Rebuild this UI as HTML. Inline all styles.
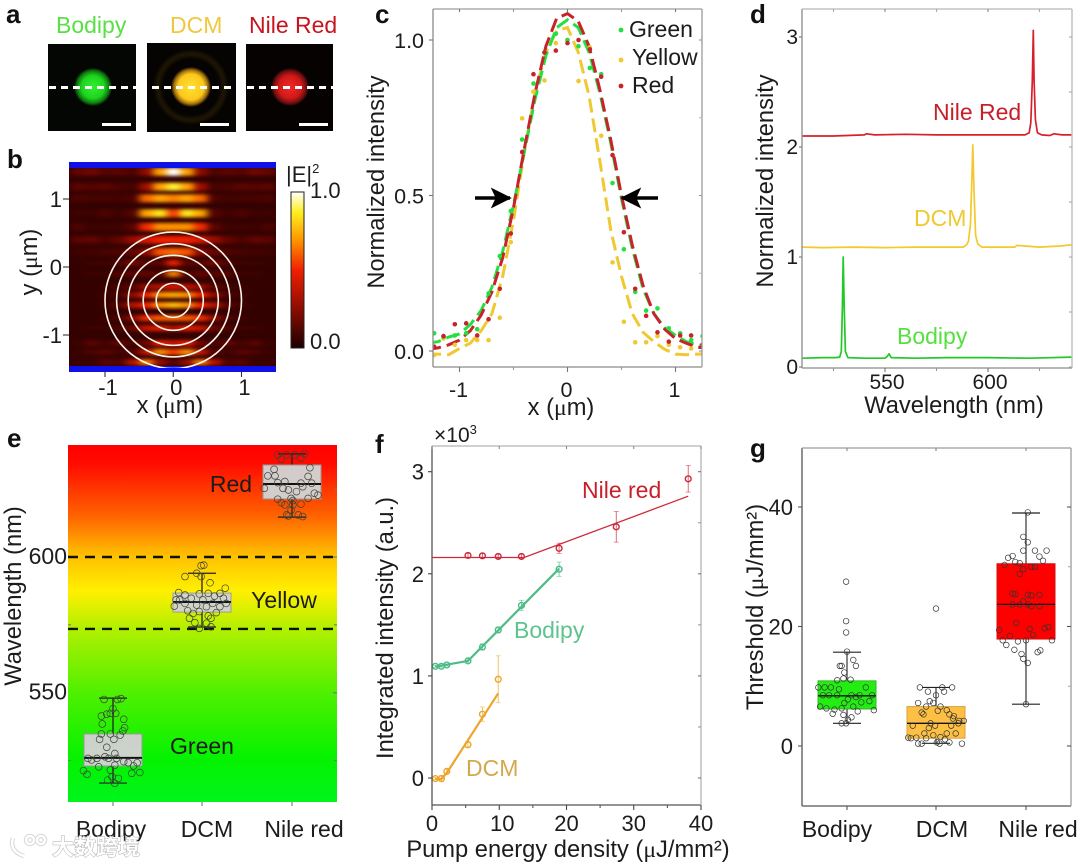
<!DOCTYPE html>
<html lang="en">
<head>
<meta charset="utf-8">
<title>Panels a-g: lasing spectra and thresholds</title>
<style>
html,body{margin:0;padding:0;background:#fff;}
#fig{display:block;width:1080px;height:865px;filter:blur(0.35px);font-family:"Liberation Sans","Noto Sans CJK SC",sans-serif;}
text{fill:#1c1c1c;font-family:"Liberation Sans","Noto Sans CJK SC",sans-serif;}
.letter{font-weight:bold;font-size:26px;fill:#111;}
.title{font-size:23.7px;}
.mu{font-family:"Liberation Serif","DejaVu Serif",serif;}
</style>
</head>
<body>
<svg id="fig" xmlns="http://www.w3.org/2000/svg" width="1080" height="865" viewBox="0 0 1080 865">
<defs>
  <radialGradient id="spot-green"><stop offset="0" stop-color="#30f030"/><stop offset=".6" stop-color="#1ed41e"/><stop offset=".85" stop-color="#0f7a0f"/><stop offset="1" stop-color="#041004"/></radialGradient>
  <radialGradient id="spot-yellow"><stop offset="0" stop-color="#ffe030"/><stop offset=".65" stop-color="#fcc71c"/><stop offset=".85" stop-color="#a0700c"/><stop offset="1" stop-color="#0c0600"/></radialGradient>
  <radialGradient id="spot-red"><stop offset="0" stop-color="#f02a2a"/><stop offset=".6" stop-color="#d01818"/><stop offset=".85" stop-color="#701010"/><stop offset="1" stop-color="#100202"/></radialGradient>
  <linearGradient id="cbar" x1="0" y1="1" x2="0" y2="0">
    <stop offset="0" stop-color="#1c0000"/><stop offset=".25" stop-color="#8c0c00"/><stop offset=".5" stop-color="#f02000"/><stop offset=".7" stop-color="#ff9a00"/><stop offset=".87" stop-color="#ffee20"/><stop offset="1" stop-color="#ffffff"/>
  </linearGradient>
  <linearGradient id="spectrum-bg" x1="0" y1="0" x2="0" y2="1">
    <stop offset="0" stop-color="#ff0000"/><stop offset=".05" stop-color="#ff0a00"/><stop offset=".2" stop-color="#ff6400"/><stop offset=".31" stop-color="#ffc000"/><stop offset=".41" stop-color="#fff000"/><stop offset=".51" stop-color="#b4f000"/><stop offset=".7" stop-color="#4cf000"/><stop offset=".88" stop-color="#04f200"/><stop offset="1" stop-color="#00f51c"/>
  </linearGradient>
  <filter id="heat-blur" x="-5%" y="-5%" width="110%" height="110%" color-interpolation-filters="sRGB"><feGaussianBlur stdDeviation="3.6 1.7"/></filter>
  <filter id="soft" x="-20%" y="-20%" width="140%" height="140%" color-interpolation-filters="sRGB"><feGaussianBlur stdDeviation="1.2"/></filter>
  <clipPath id="heat-clip"><rect x="69" y="166" width="207" height="202"/></clipPath>
  <clipPath id="c-clip"><rect x="433" y="9" width="269" height="358"/></clipPath>
  <marker id="arrow-head" markerWidth="6" markerHeight="6" refX="5.5" refY="3" orient="auto"><path d="M0,0 L6,3 L0,6 L1.4,3 Z" fill="#000"/></marker>
</defs>

<rect x="0" y="0" width="1080" height="865" fill="#fff"/>

<!-- Panel a -->
<g>
  <text class="letter" x="6" y="23">a</text>
  <text x="56" y="33" font-size="23" style="fill:#58e044">Bodipy</text>
  <text x="170" y="33" font-size="23" style="fill:#f0c83c">DCM</text>
  <text x="249" y="33" font-size="23" style="fill:#c8141e">Nile Red</text>
  <rect x="48" y="44" width="88" height="87" fill="#040604"/>
  <circle cx="93" cy="87" r="19" fill="url(#spot-green)"/>
  <rect x="147" y="43" width="89" height="89" fill="#060402"/>
  <circle cx="191" cy="87" r="33" fill="none" stroke="#1c1404" stroke-width="6" filter="url(#soft)"/>
  <circle cx="191" cy="87" r="20" fill="url(#spot-yellow)"/>
  <rect x="246" y="44" width="87" height="87" fill="#060202"/>
  <circle cx="290" cy="87" r="19" fill="url(#spot-red)"/>
  <g stroke="#fff" stroke-width="3" stroke-dasharray="7 5">
    <line x1="49" y1="87.5" x2="136" y2="87.5"/>
    <line x1="152" y1="87.5" x2="236" y2="87.5"/>
    <line x1="247" y1="87.5" x2="333" y2="87.5"/>
  </g>
  <g fill="#fff">
    <rect x="102" y="123" width="29" height="3"/>
    <rect x="200" y="123" width="29" height="3"/>
    <rect x="299" y="123" width="29" height="3"/>
  </g>
</g>

<!-- Panel b -->
<g id="panel-b">
  <text class="letter" x="7" y="168">b</text>
  <rect x="69" y="165" width="207" height="204" fill="#340202"/>
  <g id="heat-layer" clip-path="url(#heat-clip)"><g id="heat-cells" filter="url(#heat-blur)"></g></g>
  <rect x="69" y="162" width="207" height="6" fill="#1010e8"/>
  <rect x="69" y="366" width="207" height="6" fill="#1010e8"/>
  <g id="rings" fill="none" stroke="#fbf4ec" stroke-width="1.6" clip-path="url(#heat-clip)"></g>
  <g id="b-axes"></g>
  <text class="title" x="170" y="413" text-anchor="middle">x (<tspan class="mu">μ</tspan>m)</text>
  <text class="title" transform="rotate(-90 37 262)" x="37" y="262" text-anchor="middle">y (<tspan class="mu">μ</tspan>m)</text>
  <rect x="291" y="192" width="13" height="156" fill="url(#cbar)" stroke="#222" stroke-width="1"/>
  <text x="286" y="182" font-size="22">|E|<tspan font-size="13" dy="-9">2</tspan></text>
  <text x="310" y="198" font-size="22">1.0</text>
  <text x="310" y="349" font-size="22">0.0</text>
</g>

<!-- Panel c -->
<g id="panel-c">
  <text class="letter" x="375" y="23">c</text>
  <g id="c-marks" clip-path="url(#c-clip)"></g>
  <g id="c-axes"></g>
  <line x1="475" y1="198" x2="510" y2="198" stroke="#000" stroke-width="3.5" marker-end="url(#arrow-head)"/>
  <line x1="658" y1="198" x2="622" y2="198" stroke="#000" stroke-width="3.5" marker-end="url(#arrow-head)"/>
  <circle cx="621" cy="30" r="2.4" fill="#22e040"/>
  <circle cx="621" cy="60" r="2.4" fill="#f0c832"/>
  <circle cx="621" cy="86" r="2.4" fill="#c8232c"/>
  <text x="629" y="37" font-size="23">Green</text>
  <text x="632" y="65" font-size="23">Yellow</text>
  <text x="632" y="93" font-size="23">Red</text>
  <text class="title" x="561" y="415" text-anchor="middle">x (<tspan class="mu">μ</tspan>m)</text>
  <text class="title" transform="rotate(-90 384 182)" x="384" y="182" text-anchor="middle">Normalized intensity</text>
</g>

<!-- Panel d -->
<g id="panel-d">
  <text class="letter" x="750" y="23">d</text>
  <g id="d-marks"></g>
  <g id="d-axes"></g>
  <text x="933" y="120" font-size="23" style="fill:#c81e2a">Nile Red</text>
  <text x="914" y="226" font-size="23" style="fill:#f0c832">DCM</text>
  <text x="897" y="344" font-size="23" style="fill:#55e040">Bodipy</text>
  <text class="title" x="954" y="413" text-anchor="middle">Wavelength (nm)</text>
  <text class="title" transform="rotate(-90 773 181)" x="773" y="181" text-anchor="middle">Normalized intensity</text>
</g>

<!-- Panel e -->
<g id="panel-e">
  <text class="letter" x="7" y="447">e</text>
  <rect x="68" y="445" width="269" height="357" fill="url(#spectrum-bg)"/>
  <g id="e-marks"></g>
  <g id="e-axes"></g>
  <text x="231" y="492" font-size="23" text-anchor="middle">Red</text>
  <text x="284" y="608" font-size="23" text-anchor="middle">Yellow</text>
  <text x="202" y="754" font-size="23" text-anchor="middle">Green</text>
  <text class="title" transform="rotate(-90 21 596)" x="21" y="596" text-anchor="middle">Wavelength (nm)</text>
</g>

<!-- Panel f -->
<g id="panel-f">
  <text class="letter" x="375" y="453">f</text>
  <text x="434" y="442" font-size="21">×10<tspan font-size="13" dy="-8">3</tspan></text>
  <g id="f-marks"></g>
  <g id="f-axes"></g>
  <text x="582" y="498" font-size="23" style="fill:#c8202a">Nile red</text>
  <text x="514" y="638" font-size="23" style="fill:#5cc48c">Bodipy</text>
  <text x="466" y="776" font-size="23" style="fill:#d4a850">DCM</text>
  <text class="title" x="568" y="857" text-anchor="middle">Pump energy density (<tspan class="mu">μ</tspan>J/mm²)</text>
  <text class="title" transform="rotate(-90 393 628)" x="393" y="628" text-anchor="middle">Integrated intensity (a.u.)</text>
</g>

<!-- Panel g -->
<g id="panel-g">
  <text class="letter" x="750" y="457">g</text>
  <g id="g-marks"></g>
  <g id="g-axes"></g>
  <text class="title" transform="rotate(-90 763 607)" x="763" y="607" text-anchor="middle">Threshold (<tspan class="mu">μ</tspan>J/mm²)</text>
</g>

<!-- Watermark -->
<g opacity=".95">
  <g fill="none" stroke="#d4d4d4" stroke-width="4.5">
    <path d="M13,838 C10,846 14,853 24,856"/>
    <circle cx="30" cy="840" r="4"/>
    <circle cx="41" cy="840" r="4"/>
  </g>
  <g fill="none" stroke="#fff" stroke-width="2.5">
    <path d="M13,838 C10,846 14,853 24,856"/>
    <circle cx="30" cy="840" r="4"/>
    <circle cx="41" cy="840" r="4"/>
  </g>
  <text x="52" y="855" font-size="22" font-weight="bold" style="fill:#fff;stroke:#aaa;stroke-width:1;paint-order:stroke">大数跨境</text>
</g>
</svg>

<script>
/* ---------- panel b data ---------- */
const heatRowY = [1.4,1.18,1.01,0.79,0.59,0.4,0.22,0.06,-0.1,-0.29,-0.41,-0.56,-0.75,-0.9,-1.12,-1.25,-1.4];
const heatColX = [0,0.2,0.4,0.6,0.8,1.0,1.2,1.4];
const heatValues = [
 [1.0,.72,.28,.1,.14,.12,.2,.16],
 [.88,.72,.32,.08,.1,.14,.12,.14],
 [.66,.72,.62,.1,.07,.08,.08,.1],
 [.55,.85,.72,.12,.06,.1,.05,.06],
 [.68,.68,.52,.14,.06,.06,.05,.1],
 [.5,.5,.42,.3,.16,.1,.16,.14],
 [.62,.58,.26,.16,.1,.08,.07,.06],
 [.5,.14,.14,.22,.1,.05,.05,.04],
 [.66,.12,.16,.14,.12,.05,.05,.03],
 [.42,.36,.3,.14,.08,.05,.03,.03],
 [.72,.68,.5,.28,.1,.06,.03,.03],
 [.76,.68,.5,.36,.14,.06,.03,.03],
 [.62,.6,.52,.28,.1,.05,.03,.03],
 [.34,.46,.4,.18,.1,.05,.05,.03],
 [.4,.48,.2,.1,.16,.08,.14,.05],
 [.55,.68,.4,.12,.08,.14,.1,.05],
 [.12,.3,.66,.38,.12,.14,.05,.05]
];
const ringRadii = [0.25,0.44,0.66,0.83,1.0];
const bXTicks = [-1,0,1];
const bXLabels = ['-1','0','1'];
const bYTicks = [1,0,-1];
const bYLabels = ['1','0','-1'];

/* ---------- panel c data ---------- */
const fitX = [-1.3,-1.2,-1.1,-1,-0.9,-0.8,-0.7,-0.6,-0.5,-0.4,-0.3,-0.2,-0.1,0,0.1,0.2,0.3,0.4,0.5,0.6,0.7,0.8,0.9,1,1.1,1.2,1.3];
const fitGreen = [.025,.03,.045,.055,.085,.13,.205,.32,.47,.64,.81,.95,1.04,1.065,1.04,.96,.83,.67,.49,.33,.2,.12,.075,.05,.03,.02,.015];
const fitRed = [.005,.01,.02,.035,.065,.115,.19,.3,.46,.65,.83,.98,1.07,1.085,1.06,.98,.84,.68,.5,.34,.21,.12,.07,.04,.025,.012,.01];
const fitYellow = [-.01,-.01,-.012,.008,.025,.065,.12,.24,.42,.64,.83,.96,1.03,1.04,.96,.82,.61,.39,.24,.12,.06,.03,.005,-.01,-.012,-.01,-.01];
const dotX = [-1.235,-1.148,-1.043,-.938,-.836,-.731,-.627,-.525,-.42,-.315,-.213,-.108,0,.102,.207,.312,.417,.522,.627,.728,.833,.938,1.043,1.145,1.25];
const dotGreen = [.057,.046,.05,.057,.07,.185,.305,.45,.68,.86,.96,1.02,1.0,.98,.91,.89,.54,.327,.19,.13,.137,.073,.057,.035,.048];
const dotYellow = [-.013,.04,.02,.035,.035,.035,.107,.35,.748,.834,.87,.99,1.0,.868,.976,.692,.285,.094,.028,.028,.048,.02,.012,.008,-.008];
const dotRed = [.014,.048,.086,.089,.05,.102,.2,.378,.64,.89,.96,.966,.99,1.0,.97,.882,.63,.382,.2,.113,.06,.03,.05,.05,.02];
const cXTicks = [-1,0,1];
const cXLabels = ['-1','0','1'];
const cYTicks = [1,0.5,0];
const cYLabels = ['1.0','0.5','0.0'];

/* ---------- panel d data ---------- */
const nileWave = [510,525,540,541,545,560,575,590,605,618,620,620.8,621.5,622,622.4,623,624,626,630,632,636,640.5];
const nileInt = [2.1,2.1,2.11,2.12,2.11,2.115,2.11,2.11,2.11,2.11,2.13,2.22,2.6,3.06,2.6,2.25,2.13,2.11,2.105,2.12,2.11,2.11];
const dcmWave = [510,520,535,550,565,580,588,589.5,590.5,591.5,592,592.6,593.2,594,595,597,605,613,614,625,635,640.5];
const dcmInt = [1.09,1.085,1.09,1.085,1.09,1.09,1.09,1.11,1.14,1.3,1.6,2.02,1.6,1.2,1.12,1.09,1.09,1.09,1.105,1.09,1.1,1.11];
const bodWave = [510,520,526,528,528.8,529.3,529.7,530.2,530.8,532,540,550,551,552,553,565,580,600,620,640.5];
const bodInt = [.08,.085,.085,.09,.14,.55,1.0,.55,.14,.085,.08,.08,.095,.12,.085,.08,.085,.085,.08,.09];
const dXTicks = [550,600];
const dXLabels = ['550','600'];
const dXMinor = [525,575,625];
const dYTicks = [3,2,1,0];
const dYLabels = ['3','2','1','0'];

/* ---------- panel e data ---------- */
const eCategories = ['Bodipy','DCM','Nile red'];
const eLow = [516.7,574.2,614.7];
const eQ1 = [523,579.7,621.4];
const eMedian = [526,583.4,626.9];
const eQ3 = [534.8,586.7,633.9];
const eHigh = [548,594,638];
const eBoundaries = [600,573.5];
const eJitterBodipy = [-.1,.05,.09,0,-.13,-.07,-.03,.03,.12,-.12,.13,.11,-.13,-.03,.08,.01,-.15,-.07,.02,-.09,-.28,-.24,-.18,-.05,.04,.12,.17,.27,-.16,.02,.23,-.33,-.29,-.03,.21,.3,-.01,-.06,.06,.02];
const eValueBodipy = [547.5,547.5,547.8,544.1,541.4,542.1,542.4,542.4,540.2,538.5,537.1,535.9,534.8,534.8,534.4,532.8,532.8,529.9,527.6,526.4,525.8,525.2,525.8,525.8,525.8,524.6,524.2,524.2,522.7,523.3,523,521.3,519.9,521.5,520.3,520.6,519,517.8,518.4,516.6];
const eJitterDcm = [.02,-.01,-.19,-.06,-.01,.09,.26,-.26,.2,.07,-.19,-.03,.14,-.12,-.29,.01,.24,-.19,.12,-.06,-.31,.05,.2,-.16,-.03,.16,-.1,.07,-.14,.1,-.08,.05,.1,-.03,-.25,.27];
const eValueDcm = [597,596.8,592.8,594,592.8,590.5,588.5,586.9,586.6,586.6,586,586.4,585.6,584.8,584.2,584.2,584.8,582.9,582.9,582.3,581.9,581.7,581.7,580.2,579.9,579.5,579.2,578.3,577.4,577.4,575.8,575.6,574.3,573.7,584.2,582.9];
const eJitterNile = [-.16,-.06,.03,.14,-.12,.1,.2,-.2,-.27,-.19,.18,-.16,-.08,.1,.22,-.31,-.1,.12,.05,-.04,.25,.29,.18,-.16,-.01,-.12,-.08,.01,.1,-.01,-.04,.07,.12,.01,-.06];
const eValueNile = [637.6,637.6,637.6,638,636,636.4,632.9,632.3,629.9,629.9,629.7,627.4,627.8,627.2,627.2,625.3,625.3,625.9,624.1,624.7,623.5,622.8,621.6,621.3,621.6,620,619.2,619.2,619.5,617.3,615.1,615.5,614.9,620.8,615.5];
const eYTicks = [600,550];
const eYLabels = ['600','550'];
const eYMinor = [625,575,525];

/* ---------- panel f data ---------- */
const nileEnergy = [5.35,7.5,9.85,13.3,18.9,27.4,38.1];
const nileIntensity = [2.18,2.176,2.17,2.17,2.25,2.46,2.93];
const nileError = [.02,.02,.02,.02,.05,.15,.13];
const nileFitX = [0,13.7,38.1];
const nileFitY = [2.16,2.16,2.76];
const bodipyEnergy = [.5,1.4,2.2,5.35,7.5,9.85,13.3,18.9];
const bodipyIntensity = [1.094,1.094,1.107,1.147,1.283,1.45,1.69,2.045];
const bodipyError = [.01,.01,.01,.02,.03,.03,.05,.07];
const bodipyFitX = [.5,5.35,18.9];
const bodipyFitY = [1.09,1.147,2.05];
const dcmEnergy = [.5,1.4,2.2,5.35,7.5,9.85];
const dcmIntensity = [-.006,-.006,.065,.326,.625,.967];
const dcmError = [.01,.03,.02,.03,.07,.23];
const dcmFitX = [.5,1.4,2.2,9.85];
const dcmFitY = [-.01,-.01,.05,.83];
const fXTicks = [0,10,20,30,40];
const fXLabels = ['0','10','20','30','40'];
const fXMinor = [5,15,25,35];
const fYTicks = [3,2,1,0];
const fYLabels = ['3','2','1','0'];
const fYMinor = [2.5,1.5,0.5];

/* ---------- panel g data ---------- */
const gCategories = ['Bodipy','DCM','Nile red'];
const gLow = [3.8,.45,7];
const gQ1 = [6.2,1.3,17.9];
const gMedian = [8.4,3.8,23.7];
const gQ3 = [10.9,6.6,30.5];
const gHigh = [15.7,9.8,39];
const gJitterBodipy = [-.01,-.01,-.01,0,.07,-.08,-.06,.1,-.03,-.04,-.11,.04,-.32,-.25,-.18,.21,-.09,-.27,-.2,-.11,.05,.14,.28,.1,.01,-.03,.16,.25,-.3,-.23,.07,-.06,-.14,.3,.12,-.16,-.04,.05,.01,-.06,-.01];
const gValueBodipy = [27.5,20.9,19,15.8,14.4,13.4,13.4,13.4,12.3,11.3,11,11.1,9.8,9.8,9.8,9.8,9.5,8.5,8.5,8.5,8.5,8.5,8.5,8.2,7.8,7.2,7.3,7.5,6.6,6.3,6.6,6.3,6.1,6,5.8,5.4,5.2,4.8,4.4,3.8,3.8];
const gJitterDcm = [0,-.18,.07,.18,-.09,.09,0,-.07,-.2,-.03,-.11,.05,.12,.02,-.16,-.14,.15,.2,.19,.26,.31,.25,-.06,-.01,-.26,.17,-.08,-.13,.12,.22,-.03,.05,-.31,-.28,-.22,-.11,.1,.01,.15,-.2,-.16,.29,.04];
const gValueDcm = [23,9.8,9.8,9.8,9.1,9.1,8.5,7.5,7.2,7.2,6.6,6.6,6,5.9,5.6,5.3,5.3,5,4.6,4.2,4.2,3.8,3.8,3.4,3.4,3.4,3,2.1,2.1,2.1,1.8,1.5,1.4,1.3,1.4,1.3,1.1,.6,.6,.4,.4,.4,.4];
const gJitterNile = [.02,-.03,.02,-.03,.1,.23,-.15,-.2,.15,-.12,-.07,.19,-.24,.06,.1,-.03,-.07,-.15,-.12,.02,.06,.15,-.03,-.07,-.15,.02,.06,.15,-.11,.04,-.3,.21,.25,.08,-.18,-.26,-.09,0,.29,-.22,-.13,.16,.13,-.05,-.03,.02,0];
const gValueNile = [39.1,35,34.1,32.7,32.7,32.7,31.8,31.5,31.7,30.8,30.6,31,30.3,30,30,29.6,28.8,25.5,25.4,25.3,25.2,25.3,24.2,23.7,23.7,23.7,23.4,23.4,20.6,19.6,19.4,19.7,19.9,18.6,18.4,17.7,17.5,17.7,17.7,16.9,16.1,16,15.7,15.4,14.6,13.9,7];
const gYTicks = [40,20,0];
const gYLabels = ['40','20','0'];
const gYMinor = [30,10];

/* ---------- helpers ---------- */
const NS = 'http://www.w3.org/2000/svg';
function make(tag, attrs, parent, content){
  const el = document.createElementNS(NS, tag);
  for (const k in attrs) el.setAttribute(k, attrs[k]);
  if (content !== undefined) el.textContent = content;
  parent.appendChild(el);
  return el;
}
function scale(d0, d1, r0, r1){ return v => r0 + (v - d0) * (r1 - r0) / (d1 - d0); }
function pathOf(xs, ys, sx, sy){ return xs.map((x,i) => (i?'L':'M') + sx(x).toFixed(1) + ' ' + sy(ys[i]).toFixed(1)).join(' '); }
function lerp(a,b,t){ return Math.round(a + (b-a)*t); }
const heatStops = [[0,[42,0,0]],[.25,[130,8,0]],[.5,[240,32,0]],[.7,[255,154,0]],[.87,[255,238,32]],[1,[255,255,255]]];
function heatColor(v){
  for (let i=1;i<heatStops.length;i++){
    if (v <= heatStops[i][0]){
      const a = heatStops[i-1], b = heatStops[i], t = (v-a[0])/(b[0]-a[0]);
      return 'rgb(' + lerp(a[1][0],b[1][0],t) + ',' + lerp(a[1][1],b[1][1],t) + ',' + lerp(a[1][2],b[1][2],t) + ')';
    }
  }
  return '#fff';
}
/* draws a frame with tick marks and labels for a panel */
function drawFrame(parent, box, strong, soft){
  const l = make('line',{x1:box.l,y1:box.t,x2:box.l,y2:box.b,stroke:strong,'stroke-width':1.3},parent);
  
  
  const b = make('line',{x1:box.l,y1:box.b,x2:box.r,y2:box.b,stroke:strong,'stroke-width':1.3},parent);
  
  
  const t = make('line',{x1:box.l,y1:box.t,x2:box.r,y2:box.t,stroke:soft,'stroke-width':1.3},parent);
  
  
  const r = make('line',{x1:box.r,y1:box.t,x2:box.r,y2:box.b,stroke:soft,'stroke-width':1.3},parent);
  
  
}
function xTick(parent, px, y0, len, color){
  const t = make('line',{x1:px,y1:y0,x2:px,y2:y0+len,stroke:color,'stroke-width':1.1},parent);
  
  
}
function yTick(parent, py, x0, len, color){
  const t = make('line',{x1:x0,y1:py,x2:x0+len,y2:py,stroke:color,'stroke-width':1.1},parent);
  
  
}
function xLabel(parent, px, y, txt, size){
  const t = make('text',{x:px,y:y,'text-anchor':'middle','font-size':size},parent,txt);
  
  
}
function yLabel(parent, x, py, txt, size){
  const t = make('text',{x:x,y:py,'text-anchor':'end','font-size':size},parent,txt);
  
  
}
function drawBox(parent, cfg, cx, low, q1, med, q3, high, sy, jitter, values, spacing){
  const w = make('line',{x1:cx,x2:cx,y1:sy(high),y2:sy(low),stroke:cfg.whisker,'stroke-width':1.3},parent);
  
  
  const capH = make('line',{x1:cx-14,x2:cx+14,y1:sy(high),y2:sy(high),stroke:'#222','stroke-width':1.2},parent);
  
  
  const capL = make('line',{x1:cx-14,x2:cx+14,y1:sy(low),y2:sy(low),stroke:'#222','stroke-width':1.2},parent);
  
  
  const b = make('rect',{x:cx-29,y:sy(q3),width:58,height:sy(q1)-sy(q3),fill:cfg.fill,stroke:cfg.stroke,'stroke-width':1,opacity:cfg.opacity},parent);
  
  
  const m = make('line',{x1:cx-29,x2:cx+29,y1:sy(med),y2:sy(med),stroke:'#111','stroke-width':cfg.medianWidth},parent);
  
  
  jitter.forEach((j,i) => {
    const c = make('circle',{cx:cx + j*spacing,cy:sy(values[i]),r:cfg.r,fill:'none',stroke:cfg.dot,'stroke-width':.7},parent);
    
    
  });
}

/* ---------- panel b ---------- */
(function(){
  const sx = scale(-1,1,105,241.5);
  const sy = scale(-1,1,335,199);
  const cells = document.getElementById('heat-cells');
  const cw = 0.2*(sx(1)-sx(0));
  heatRowY.forEach((y,r) => {
    const h = r < 7 ? 8 : 6;
    heatColX.forEach((x,c) => {
      [1,-1].forEach(sign => {
        if (x === 0 && sign < 0) return;
        const cell = make('rect',{x:sx(sign*x)-cw/2,y:sy(y)-h/2,width:cw+.4,height:h,fill:heatColor(heatValues[r][c])},cells);
        
        
      });
    });
  });
  const rings = document.getElementById('rings');
  ringRadii.forEach(rad => {
    const c = make('circle',{cx:sx(0),cy:sy(-0.49),r:rad*(sx(1)-sx(0))},rings);
    
    
  });
  const ax = document.getElementById('b-axes');
  bXTicks.forEach((v,i) => {
    xTick(ax, sx(v), 372, 5, '#333');
    xLabel(ax, sx(v)+3, 395, bXLabels[i], 22);
  });
  bYTicks.forEach((v,i) => {
    yTick(ax, sy(v), 63, 6, '#333');
    yLabel(ax, 62, sy(v)+8, bYLabels[i], 22);
  });
})();

/* ---------- panel c ---------- */
(function(){
  const sx = scale(-1,1,459.5,675.5);
  const sy = scale(0,1,351,40);
  const marks = document.getElementById('c-marks');
  const series = [
    {name:'yellow',fit:fitYellow,dots:dotYellow,color:'#f0c832'},
    {name:'green',fit:fitGreen,dots:dotGreen,color:'#22e040'},
    {name:'red',fit:fitRed,dots:dotRed,color:'#c8232c'}
  ];
  series.forEach(s => {
    const p = make('path',{d:pathOf(fitX,s.fit,sx,sy),fill:'none',stroke:s.color,'stroke-width':3,'stroke-dasharray':'14 6'},marks);
    
    
  });
  series.forEach(s => {
    dotX.forEach((x,i) => {
      const c = make('circle',{cx:sx(x),cy:sy(s.dots[i]),r:2.3,fill:s.color},marks);
      
      
    });
  });
  const ax = document.getElementById('c-axes');
  drawFrame(ax,{l:433,r:702,t:9,b:367},'#8a8a8a','#9c9c9c');
  cXTicks.forEach((v,i) => {
    xTick(ax, sx(v), 367, 5, '#777');
    xTick(ax, sx(v), 9, 3, '#777');
    xLabel(ax, sx(v)-1, 397, cXLabels[i], 21.5);
  });
  [-0.5,0.5].forEach(v => { xTick(ax, sx(v), 367, 3, '#999'); xTick(ax, sx(v), 9, 3, '#999'); });
  cYTicks.forEach((v,i) => {
    yTick(ax, sy(v), 429, 4, '#777');
    yTick(ax, sy(v), 699, 3, '#999');
    yLabel(ax, 424, sy(v)+8, cYLabels[i], 21.5);
  });
  [0.25,0.75].forEach(v => { yTick(ax, sy(v), 699, 3, '#bbb'); });
})();

/* ---------- panel d ---------- */
(function(){
  const sx = scale(550,600,885,988);
  const sy = scale(0,3,367,37);
  const marks = document.getElementById('d-marks');
  [[nileWave,nileInt,'#d8202c','nile-red-spectrum'],[dcmWave,dcmInt,'#f2c92e','dcm-spectrum'],[bodWave,bodInt,'#22c828','bodipy-spectrum']].forEach(s => {
    const p = make('path',{d:pathOf(s[0],s[1],sx,sy),fill:'none',stroke:s[2],'stroke-width':1.7,'stroke-linejoin':'round'},marks);
    
    
  });
  const ax = document.getElementById('d-axes');
  drawFrame(ax,{l:802,r:1072,t:9,b:368},'#8a8a8a','#b8b8b8');
  dXTicks.forEach((v,i) => {
    xTick(ax, sx(v), 368, 4, '#777');
    xTick(ax, sx(v), 9, 3, '#888');
    xLabel(ax, sx(v)+2, 389, dXLabels[i], 21);
  });
  dXMinor.forEach(v => { xTick(ax, sx(v), 368, 3, '#999'); xTick(ax, sx(v), 9, 3, '#aaa'); });
  dYTicks.forEach((v,i) => {
    yTick(ax, sy(v), 799, 3, '#777');
    yTick(ax, sy(v), 1069, 3, '#aaa');
    yLabel(ax, 798, sy(v)+7, dYLabels[i], 21);
  });
  [0.5,1.5,2.5].forEach(v => { yTick(ax, sy(v), 1069, 3, '#aaa'); });
})();

/* ---------- panel e ---------- */
(function(){
  const sy = scale(550,600,692.7,557);
  const centers = [113,202,292];
  const marks = document.getElementById('e-marks');
  eBoundaries.forEach(v => {
    const d = make('line',{x1:68,x2:337,y1:sy(v),y2:sy(v),stroke:'#111','stroke-width':2.4,'stroke-dasharray':'10 7'},marks);
    
    
  });
  const cfg = {whisker:'#222',fill:'#d2d2d2',stroke:'#9a9a9a',opacity:.97,medianWidth:2,r:3.4,dot:'#3a453a'};
  drawBox(marks,cfg,centers[0],eLow[0],eQ1[0],eMedian[0],eQ3[0],eHigh[0],sy,eJitterBodipy,eValueBodipy,89.5);
  drawBox(marks,cfg,centers[1],eLow[1],eQ1[1],eMedian[1],eQ3[1],eHigh[1],sy,eJitterDcm,eValueDcm,89.5);
  drawBox(marks,cfg,centers[2],eLow[2],eQ1[2],eMedian[2],eQ3[2],eHigh[2],sy,eJitterNile,eValueNile,89.5);
  const ax = document.getElementById('e-axes');
  const labelCenters = [111,207,304];
  eCategories.forEach((c,i) => {
    xTick(ax, centers[i], 802, 4, '#777');
    xLabel(ax, labelCenters[i], 837, c, 23);
  });
  eYTicks.forEach((v,i) => {
    yTick(ax, sy(v), 333, 4, '#777');
    yLabel(ax, 67, sy(v)+7, eYLabels[i], 23);
  });
  eYMinor.forEach(v => { yTick(ax, sy(v), 68, 3, '#777'); yTick(ax, sy(v), 334, 3, '#777'); });
})();

/* ---------- panel f ---------- */
(function(){
  const sx = scale(0,40,432,701);
  const sy = scale(0,3,778,471.7);
  const marks = document.getElementById('f-marks');
  const series = [
    {n:'nile-red',x:nileEnergy,y:nileIntensity,e:nileError,fx:nileFitX,fy:nileFitY,c:'#cc2a3c',w:1.3},
    {n:'bodipy',x:bodipyEnergy,y:bodipyIntensity,e:bodipyError,fx:bodipyFitX,fy:bodipyFitY,c:'#4cbb85',w:2.2},
    {n:'dcm',x:dcmEnergy,y:dcmIntensity,e:dcmError,fx:dcmFitX,fy:dcmFitY,c:'#eda52a',w:2.2}
  ];
  series.forEach(s => {
    const p = make('path',{d:pathOf(s.fx,s.fy,sx,sy),fill:'none',stroke:s.c,'stroke-width':s.w},marks);
    
    
    s.x.forEach((x,i) => {
      const eb = make('line',{x1:sx(x),x2:sx(x),y1:sy(s.y[i]+s.e[i]),y2:sy(s.y[i]-s.e[i]),stroke:s.c,'stroke-width':.9,opacity:.75},marks);
      
      
      const t = make('line',{x1:sx(x)-2.5,x2:sx(x)+2.5,y1:sy(s.y[i]+s.e[i]),y2:sy(s.y[i]+s.e[i]),stroke:s.c,'stroke-width':.8,opacity:.6},marks);
      
      
      const b = make('line',{x1:sx(x)-2.5,x2:sx(x)+2.5,y1:sy(s.y[i]-s.e[i]),y2:sy(s.y[i]-s.e[i]),stroke:s.c,'stroke-width':.8,opacity:.6},marks);
      
      
      const c = make('circle',{cx:sx(x),cy:sy(s.y[i]),r:2.9,fill:'none',stroke:s.c,'stroke-width':1.4},marks);
      
      
    });
  });
  const ax = document.getElementById('f-axes');
  drawFrame(ax,{l:432,r:701,t:446,b:805},'#555','#b4b4b4');
  fXTicks.forEach((v,i) => {
    xTick(ax, sx(v), 805, 5, '#444');
    xTick(ax, sx(v), 446, 3, '#888');
    xLabel(ax, sx(v)+(i===1?3:0), 831, fXLabels[i], 22);
  });
  fXMinor.forEach(v => { xTick(ax, sx(v), 805, 3, '#555'); });
  fYTicks.forEach((v,i) => {
    yTick(ax, sy(v), 428, 4, '#444');
    yTick(ax, sy(v), 698, 3, '#777');
    yLabel(ax, 424, sy(v)+8, fYLabels[i], 22);
  });
  fYMinor.forEach(v => { yTick(ax, sy(v), 698, 3, '#999'); });
})();

/* ---------- panel g ---------- */
(function(){
  const sy = scale(0,40,746,507);
  const centers = [847,936,1026];
  const fills = ['#22ee11','#fdc044','#ff0000'];
  const strokes = ['#3ab02c','#d8a43c','#d01010'];
  const jitters = [gJitterBodipy,gJitterDcm,gJitterNile];
  const values = [gValueBodipy,gValueDcm,gValueNile];
  const marks = document.getElementById('g-marks');
  gCategories.forEach((c,i) => {
    const cfg = {whisker:'#444',fill:fills[i],stroke:strokes[i],opacity:1,medianWidth:1.3,r:2.8,dot:'#333'};
    drawBox(marks,cfg,centers[i],gLow[i],gQ1[i],gMedian[i],gQ3[i],gHigh[i],sy,jitters[i],values[i],89.5);
  });
  const ax = document.getElementById('g-axes');
  drawFrame(ax,{l:802,r:1071,t:448,b:806},'#555','#9c9c9c');
  const labelCenters = [837,942,1038];
  gCategories.forEach((c,i) => {
    xTick(ax, centers[i], 806, 4, '#555');
    xTick(ax, centers[i], 448, 3, '#888');
    xLabel(ax, labelCenters[i], 837, c, 23);
  });
  gYTicks.forEach((v,i) => {
    yTick(ax, sy(v), 798, 4, '#555');
    yTick(ax, sy(v), 1067, 4, '#555');
    yLabel(ax, 793, sy(v)+8, gYLabels[i], 22);
  });
  gYMinor.forEach(v => { yTick(ax, sy(v), 1068, 3, '#aaa'); });
})();
</script>
</body>
</html>
